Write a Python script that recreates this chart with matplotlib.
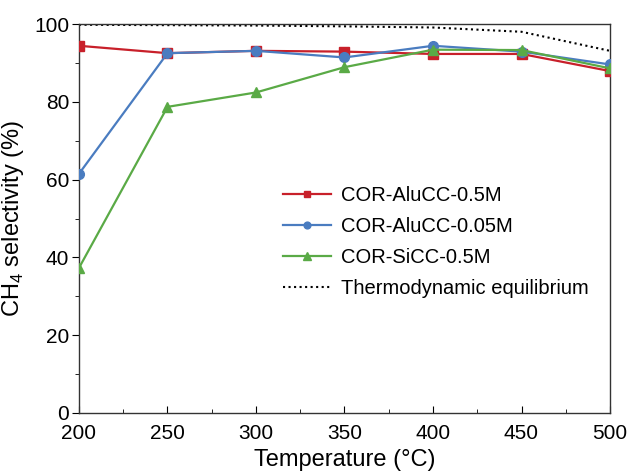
import numpy as np
import matplotlib
matplotlib.use('Agg')
import matplotlib.pyplot as plt
from matplotlib.ticker import MultipleLocator

plt.rcParams['font.family'] = ['Liberation Sans', 'DejaVu Sans']
plt.rcParams['mathtext.fontset'] = 'custom'
plt.rcParams['mathtext.rm'] = 'Liberation Sans'

temperature = [200, 250, 300, 350, 400, 450, 500]
alu_05 = [94.4, 92.5, 93.1, 92.9, 92.3, 92.3, 87.9]
alu_005 = [61.5, 92.5, 93.1, 91.4, 94.4, 92.9, 89.6]
sicc_05 = [37.3, 78.7, 82.4, 88.9, 93.4, 93.3, 88.6]
equilibrium = [99.8, 99.7, 99.6, 99.4, 99.1, 98.0, 93.1]

fig = plt.figure(figsize=(6.29, 4.71), dpi=100)
ax = fig.add_axes([79 / 629, 1 - 413 / 471, 531 / 629, 389 / 471])

ax.plot(temperature, equilibrium, ':', color='black', lw=1.5, label='Thermodynamic equilibrium', zorder=2)
ax.plot(temperature, alu_05, '-s', color='#c8202a', lw=1.6, ms=7, label='COR-AluCC-0.5M', zorder=3)
ax.plot(temperature, alu_005, '-o', color='#4a7cc0', lw=1.6, ms=7, label='COR-AluCC-0.05M', zorder=4)
ax.plot(temperature, sicc_05, '-^', color='#5aaa46', lw=1.6, ms=7.5, label='COR-SiCC-0.5M', zorder=5)

ax.set_xlim(200, 500)
ax.set_ylim(0, 100)
ax.xaxis.set_major_locator(MultipleLocator(50))
ax.xaxis.set_minor_locator(MultipleLocator(25))
ax.yaxis.set_major_locator(MultipleLocator(20))
ax.yaxis.set_minor_locator(MultipleLocator(10))
ax.tick_params(axis='x', which='both', direction='in', labelsize=15, pad=8)
ax.tick_params(axis='x', which='major', length=5)
ax.tick_params(axis='x', which='minor', length=3)
ax.tick_params(axis='y', which='both', direction='out', labelsize=15, pad=2)
ax.tick_params(axis='y', which='major', length=5)
ax.tick_params(axis='y', which='minor', length=3)
for s in ax.spines.values():
    s.set_linewidth(1.0)
    s.set_color('#333333')

ax.set_xlabel('Temperature (°C)', fontsize=17, labelpad=4)
ax.set_ylabel('CH$_4$ selectivity (%)', fontsize=17, labelpad=6)

handles, labels = ax.get_legend_handles_labels()
order = [1, 2, 3, 0]
ax.legend([handles[i] for i in order], [labels[i] for i in order],
          loc='upper left', bbox_to_anchor=(0.35, 0.63), frameon=False,
          fontsize=14.5, markerscale=0.7, handlelength=2.4, labelspacing=0.6,
          handletextpad=0.5)

fig.savefig('out.png', dpi=100)
